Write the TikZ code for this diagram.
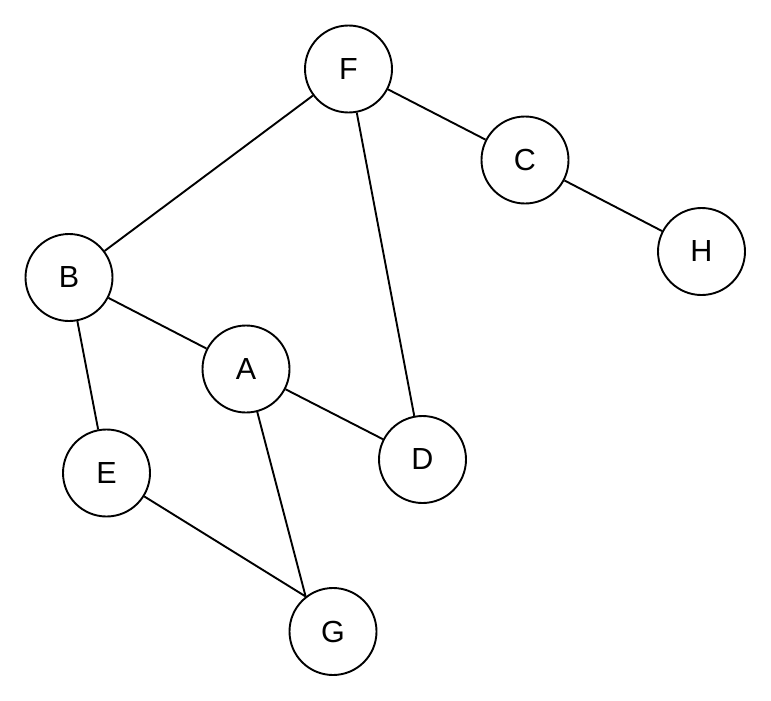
\documentclass[tikz,border=0pt]{standalone}
\usepackage{fontspec}
\setmainfont{Liberation Sans}
\begin{document}
\begin{tikzpicture}[x=1pt,y=-1pt,
  vert/.style={circle,draw=black,line width=1.9pt,fill=white,minimum size=87pt,inner sep=0pt,font=\fontsize{30.5}{32}\selectfont},
  edge/.style={line width=1.9pt,black}]
\useasboundingbox (0,0) rectangle (771,701);
\node[vert] (F) at (348.5,69) {F};
\node[vert] (C) at (525,160) {C};
\node[vert] (H) at (701.5,251.5) {H};
\node[vert] (B) at (69,277.5) {B};
\node[vert] (A) at (246,369) {A};
\node[vert] (D) at (422.5,459.5) {D};
\node[vert] (E) at (106.5,473) {E};
\node[vert] (G) at (333,631.5) {G};
\draw[edge] (F) -- (C);
\draw[edge] (C) -- (H);
\draw[edge] (F) -- (B);
\draw[edge] (F) -- (D);
\draw[edge] (B) -- (A);
\draw[edge] (B) -- (E);
\draw[edge] (A) -- (D);
\draw[edge] (A) -- (G.128);
\draw[edge] (E) -- (G.128);
\end{tikzpicture}
\end{document}
